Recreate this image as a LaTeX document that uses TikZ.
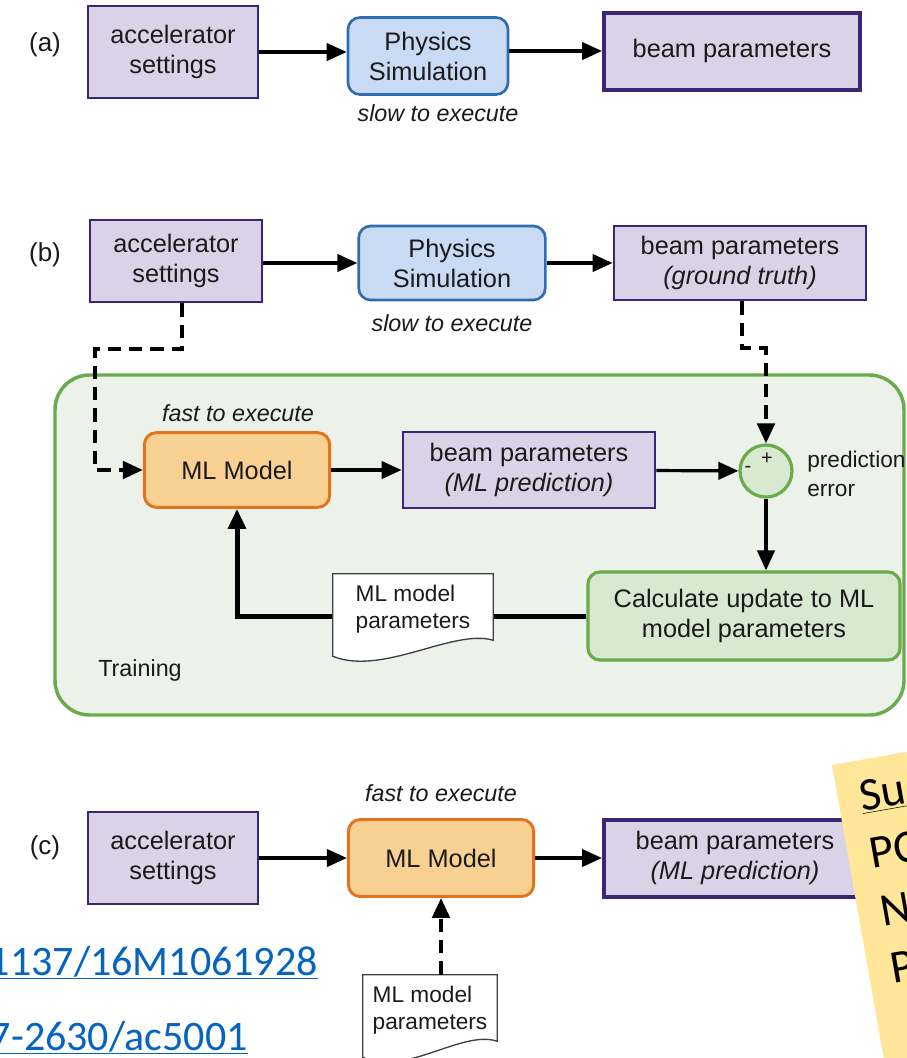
\documentclass[tikz,border=0pt]{standalone}
\usepackage{fontspec}
\setmainfont{Liberation Sans}
\newfontfamily\calfont{Carlito}
\usetikzlibrary{arrows.meta,calc}
\pgfdeclarelayer{bg}
\pgfsetlayers{bg,main}
\definecolor{purfill}{HTML}{DAD3E8}
\definecolor{purline}{HTML}{3B2576}
\definecolor{blufill}{HTML}{C9DBF4}
\definecolor{bluline}{HTML}{2F6CB0}
\definecolor{orafill}{HTML}{F8D192}
\definecolor{oraline}{HTML}{E2741E}
\definecolor{grnline}{HTML}{6AAB4B}
\definecolor{grnfill}{HTML}{D8E9D1}
\definecolor{bgfill}{HTML}{ECF1EA}
\definecolor{linkblue}{HTML}{0563C1}
\definecolor{notefill}{HTML}{FFE699}
\definecolor{txt}{HTML}{1A1A1A}
\tikzset{
 lbl/.style={font=\fontsize{19}{22.5}\selectfont, align=center, text=txt, inner sep=0pt},
 purbox/.style={lbl, draw=purline, fill=purfill, line width=2.2pt},
 simbox/.style={lbl, draw=bluline, fill=blufill, line width=2pt, rounded corners=9pt},
 mlbox/.style={lbl, draw=oraline, fill=orafill, line width=2.2pt, rounded corners=9pt},
 calcbox/.style={lbl, draw=grnline, fill=grnfill, line width=2.4pt, rounded corners=9pt},
 plabel/.style={font=\fontsize{19.5}{23}\selectfont, text=txt},
 remark/.style={font=\fontsize{17.5}{21}\selectfont\itshape, text=txt},
 plain/.style={font=\fontsize{17}{22}\selectfont, text=txt, align=left},
 arr/.style={line width=2.4pt, -{Triangle[length=15pt,width=13pt]}},
 thickarr/.style={line width=3.75pt, -{Triangle[length=15pt,width=13pt]}},
 dsh/.style={line width=3pt, dash pattern=on 10pt off 6pt, -{Triangle[length=15pt,width=13pt]}},
 doctext/.style={font=\fontsize{17}{20.5}\selectfont, align=left, text=txt, inner sep=0pt},
 docline/.style={draw=black!75, fill=white, line width=1pt},
 link/.style={font=\calfont\fontsize{31.5}{36}\selectfont, text=linkblue, inner sep=0pt},
 notetxt/.style={font=\calfont\fontsize{35}{40}\selectfont, text=black, inner sep=0pt},
}
\begin{document}
\begin{tikzpicture}[x=0.75pt,y=-0.75pt]
\useasboundingbox (0,0) rectangle (907,1058);
% ---------------- (a)
\node[plabel] (labA) at (45,45) {(a)};
\node[purbox, minimum width=127.5pt, minimum height=69pt] (accA) at (173,52) {accelerator\\settings};
\node[simbox, minimum width=120pt, minimum height=57.75pt] (physA) at (428,56) {Physics\\Simulation};
\node[purbox, line width=3pt, minimum width=192pt, minimum height=57.75pt] (beamA) at (732,51) {beam parameters};
\node[remark] (slowA) at (438,113) {slow to execute};
\draw[arr] (accA.east) -- (accA.east -| physA.west);
\draw[arr] (beamA.west -| physA.east) -- (beamA.west);
% ---------------- (b)
\node[plabel] (labB) at (45,255) {(b)};
\node[purbox, minimum width=129pt, minimum height=61.5pt] (accB) at (176,261) {accelerator\\settings};
\node[simbox, minimum width=140pt, minimum height=55.5pt] (physB) at (452,263) {Physics\\Simulation};
\node[remark] (slowB) at (452,323) {slow to execute};
\node[purbox, minimum width=189pt, minimum height=55.5pt] (beamB) at (740,263) {beam parameters\\\textit{(ground truth)}};
\draw[arr] (accB.east |- physB.west) -- (physB.west);
\draw[arr] (physB.east) -- (beamB.west);
\node[remark] (fastB) at (238,413) {fast to execute};
\node[mlbox, minimum width=139pt, minimum height=56pt] (mlB) at (237,470) {ML Model};
\node[purbox, minimum width=189pt, minimum height=57pt] (beamML) at (529,470) {beam parameters\\\textit{(ML prediction)}};
\node[circle, draw=grnline, fill=grnfill, line width=2.4pt, minimum size=39pt, inner sep=0pt] (circ) at (766,471) {};
\node[font=\fontsize{15}{15}\selectfont, text=txt, inner sep=0pt] (plus) at (767,459) {+};
\node[font=\fontsize{15}{15}\selectfont, text=txt, inner sep=0pt] (minus) at (748,469) {-};
\node[plain, anchor=west, inner sep=0pt] (pred) at (807,474) {prediction\\error};
\node[calcbox, minimum width=234pt, minimum height=66pt] (calc) at (744,616) {Calculate update to ML\\model parameters};
\node[doctext, minimum width=120pt, minimum height=52.5pt] (doc1) at (413,609) {ML model\\parameters};
\node[plain, font=\fontsize{17.5}{22}\selectfont] (train) at (140,670) {Training};
\coordinate (dA) at (95,349);
\coordinate (dB) at (766,348);
\draw[dsh] ([xshift=4.5pt]accB.south) |- (dA) |- (mlB.west);
\draw[dsh] ([xshift=1.5pt]beamB.south) |- (dB) -- (circ.north);
\draw[arr] (mlB) -- (beamML);
\draw[arr] (beamML) -- (circ);
\draw[arr] (circ.south) -- (circ.south |- calc.north);
% ---------------- (c)
\node[plabel] (labC) at (45,848) {(c)};
\node[purbox, minimum width=127.5pt, minimum height=69pt] (accC) at (173,858) {accelerator\\settings};
\node[remark] (fastC) at (441,793) {fast to execute};
\node[mlbox, minimum width=139pt, minimum height=57.75pt] (mlC) at (441,858) {ML Model};
\node[purbox, line width=3pt, minimum width=196.5pt, minimum height=57.75pt] (beamC) at (735,858) {beam parameters\\\textit{(ML prediction)}};
\draw[arr] (accC) -- (mlC);
\draw[arr] (mlC) -- (beamC);
\node[doctext, minimum width=100.5pt, minimum height=52.5pt] (doc2) at (430,1010) {ML model\\parameters};
\draw[dsh] (doc2.north -| mlC.south) -- (mlC.south);
% links
\node[link, anchor=base east] (link1) at (318,975) {\underline{1137/16M1061928}};
\node[link, anchor=base east] (link2) at (248,1050) {\underline{7-2630/ac5001}};
% background layer: page, container, feedback line, documents
\begin{pgfonlayer}{bg}
\fill[white] (0,0) rectangle (907,1058);
\draw[draw=grnline, fill=bgfill, line width=2.6pt, rounded corners=26pt] (55,375) rectangle (904,715);
\draw[thickarr] (calc.west) -| (mlB.south);
\draw[docline] (doc1.north west) -- (doc1.north east) -- ($(doc1.south east)+(0,-4)$)
  .. controls ($(doc1.south east)+(-40,-16)$) and ($(doc1.south west)+(50,32)$) .. ($(doc1.south west)+(0,12)$) -- cycle;
\draw[docline] (doc2.north west) -- (doc2.north east) -- ($(doc2.south east)+(0,-4)$)
  .. controls ($(doc2.south east)+(-35,-16)$) and ($(doc2.south west)+(42,32)$) .. ($(doc2.south west)+(0,12)$) -- cycle;
\end{pgfonlayer}
% sticky note
\begin{scope}[shift={(832,765)}, rotate=10, transform shape]
 \fill[notefill] (0,0) rectangle (400,420);
 \node[notetxt, anchor=base west] (n1) at (22,51) {\underline{Su}};
 \node[notetxt, anchor=base west] (n2) at (22,109) {PC};
 \node[notetxt, anchor=base west] (n3) at (22,168) {N};
 \node[notetxt, anchor=base west] (n4) at (22,226) {P};
\end{scope}
\end{tikzpicture}
\end{document}
